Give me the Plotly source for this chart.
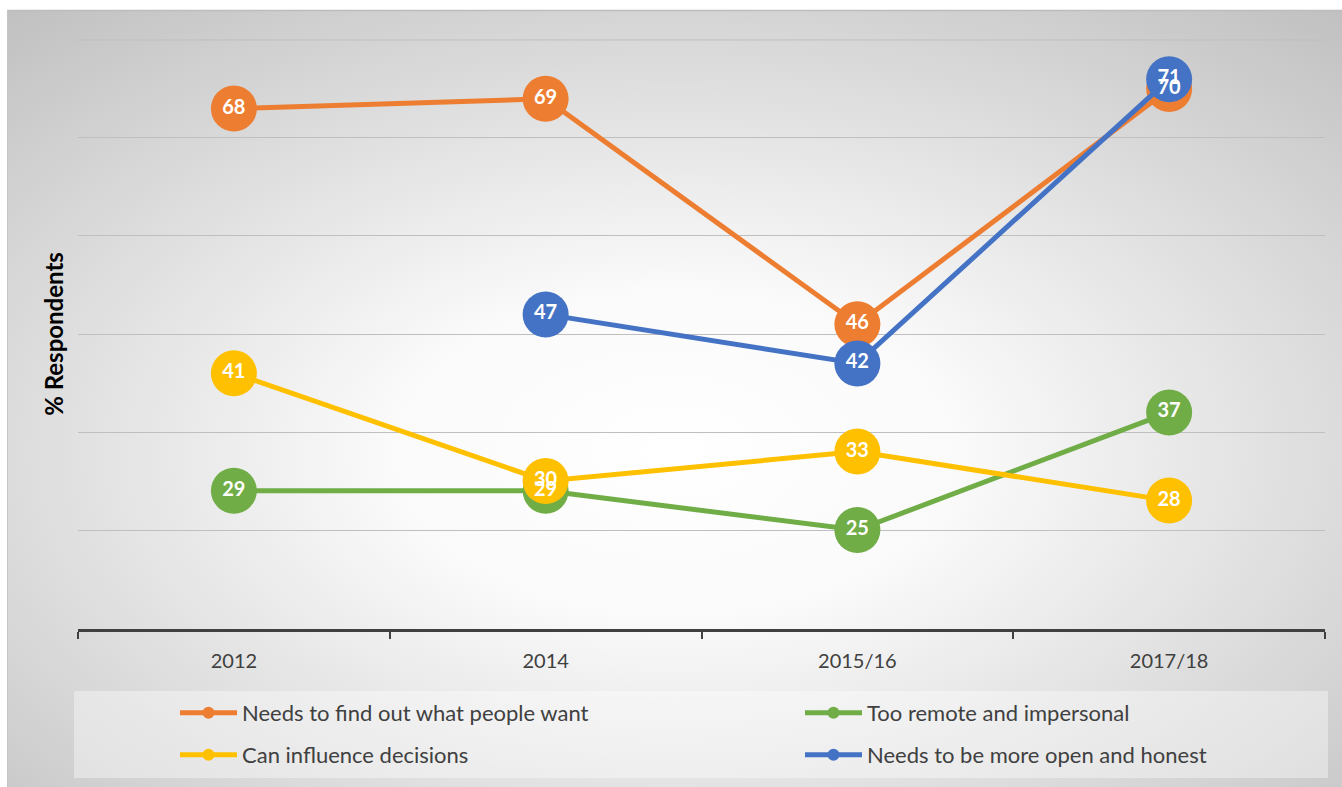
import base64
import plotly.graph_objects as go

# Survey years and share of respondents (%) agreeing with each statement
years = ["2012", "2014", "2015/16", "2017/18"]
find_out_wants = [68, 69, 46, 70]
too_remote = [29, 29, 25, 37]
influence = [41, 30, 33, 28]
open_honest = [None, 47, 42, 71]

# value axis extent (percent)
Y_MIN, Y_MAX, Y_STEP = 15, 75, 10

# name, values, colour, legend row, legend entry width
series = [
    ("Needs to find out what people want", find_out_wants, "#ED7D31", "legend", 553),
    ("Too remote and impersonal", too_remote, "#70AD47", "legend", 330),
    ("Can influence decisions", influence, "#FFC000", "legend2", 553),
    ("Needs to be more open and honest", open_honest, "#4472C4", "legend2", 400),
]

W, H = 1342, 787
ML, MR, MT, MB = 78, 17, 39, 158
PW, PH = W - ML - MR, H - MT - MB
FONT = "Lato"
GRID = "#bfbfbf"

fig = go.Figure()

for name, vals, color, leg, lw in series:
    fig.add_trace(go.Scatter(
        x=years, y=vals, name=name, mode="lines+markers",
        line=dict(color=color, width=5),
        marker=dict(color=color, size=46),
        legend=leg, legendwidth=lw, hoverinfo="skip",
    ))

# value labels drawn last so they sit above every marker
for name, vals, color, leg, lw in series:
    fig.add_trace(go.Scatter(
        x=years, y=vals, mode="text", showlegend=False,
        text=["" if v is None else str(v) for v in vals],
        textposition="middle center",
        textfont=dict(family=FONT, size=20, color="white", weight="bold"),
        hoverinfo="skip",
    ))

# radial grey-to-white backdrop
svg = (
    '<svg xmlns="http://www.w3.org/2000/svg" width="1335" height="777" '
    'viewBox="0 0 1335 777" preserveAspectRatio="none">'
    '<defs><radialGradient id="g" cx="50%" cy="57%" r="76%">'
    '<stop offset="0" stop-color="#ffffff"/>'
    '<stop offset="0.28" stop-color="#fafafa"/>'
    '<stop offset="1" stop-color="#c0c0c0"/>'
    '</radialGradient></defs>'
    '<rect width="1335" height="777" fill="url(#g)"/></svg>'
)
src = "data:image/svg+xml;base64," + base64.b64encode(svg.encode()).decode()

def px_x(p):
    return (p - ML) / PW

def px_y(p):
    return (H - MB - p) / PH

fig.add_layout_image(dict(
    source=src, xref="paper", yref="paper",
    x=px_x(7), y=px_y(10), sizex=1335 / PW, sizey=777 / PH,
    xanchor="left", yanchor="top", sizing="stretch", layer="below",
))

shapes = [
    # frame edge
    dict(type="line", xref="paper", yref="paper",
         x0=px_x(7), x1=px_x(1342), y0=px_y(10.5), y1=px_y(10.5),
         line=dict(color="#bdbdbd", width=1.5)),
    dict(type="line", xref="paper", yref="paper",
         x0=px_x(7.5), x1=px_x(7.5), y0=px_y(10), y1=px_y(787),
         line=dict(color="#c4c4c4", width=1)),
    # top gridline at the upper edge of the value axis
    dict(type="line", xref="paper", yref="y", x0=0, x1=1, y0=Y_MAX, y1=Y_MAX,
         line=dict(color=GRID, width=1), layer="below"),
    # legend panel
    dict(type="rect", xref="paper", yref="paper",
         x0=px_x(74), x1=px_x(1328), y0=px_y(691), y1=px_y(778),
         fillcolor="rgba(255,255,255,0.38)", line=dict(width=0), layer="below"),
]

legend_common = dict(
    orientation="h", xref="container", yref="container",
    xanchor="left", yanchor="middle",
    bgcolor="rgba(0,0,0,0)", itemsizing="constant", itemwidth=57,
    font=dict(family=FONT, size=22, color="#404040"),
    entrywidthmode="pixels", itemclick=False, itemdoubleclick=False,
)

fig.update_layout(
    width=W, height=H,
    margin=dict(l=ML, r=MR, t=MT, b=MB, autoexpand=False),
    paper_bgcolor="white",
    plot_bgcolor="rgba(0,0,0,0)",
    font=dict(family=FONT, color="#404040"),
    shapes=shapes,
    showlegend=True,
    legend=dict(x=175 / W, y=1 - 713 / H, **legend_common),
    legend2=dict(x=175 / W, y=1 - 755 / H, **legend_common),
    xaxis=dict(
        type="category", range=[-0.5, 3.5], tickson="boundaries",
        ticks="outside", ticklen=7, tickwidth=2, tickcolor="#404040",
        showline=True, linecolor="#404040", linewidth=2.5,
        showgrid=False, zeroline=False, ticklabelstandoff=12,
        tickfont=dict(family=FONT, size=20, color="#404040"),
    ),
    yaxis=dict(
        range=[Y_MIN - 0.1, Y_MAX + 0.1], tick0=Y_MIN, dtick=Y_STEP,
        showticklabels=False,
        showgrid=True, gridcolor=GRID, gridwidth=1,
        zeroline=False, showline=False, ticks="",
        title=dict(text="% Respondents", standoff=6,
                   font=dict(family=FONT, size=24, color="black", weight="bold")),
    ),
)

fig.write_html("out.html")
